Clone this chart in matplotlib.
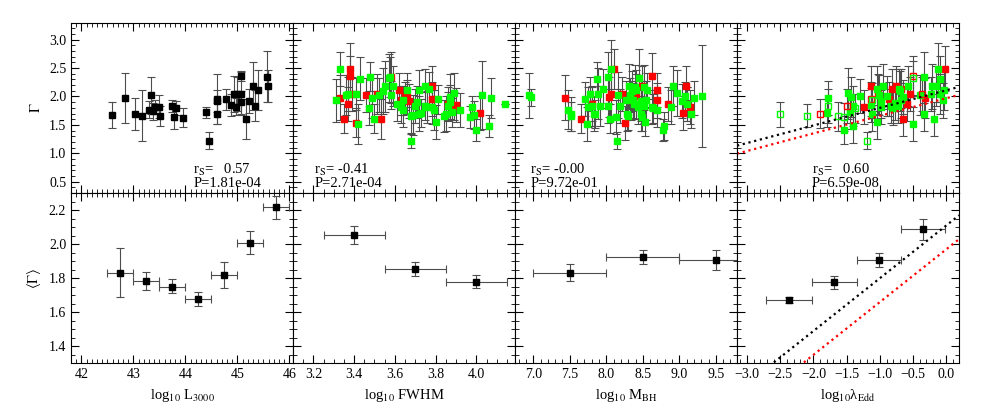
import matplotlib
matplotlib.use("Agg")
import matplotlib.pyplot as plt
from matplotlib.ticker import MultipleLocator
import numpy as np

plt.rcParams['font.family'] = ['Liberation Serif', 'DejaVu Serif']
plt.rcParams['mathtext.fontset'] = 'stix'
plt.rcParams['font.size'] = 9

# ---- top row: individual sources ----
# panel 1, L3000 (black)
l_x = [42.59, 42.83, 43.04, 43.17, 43.34, 43.30, 43.37, 43.42, 43.50, 43.51, 43.74, 43.81,
       43.79, 43.96, 44.39, 44.45, 44.60, 44.60, 44.61, 44.79, 44.88, 44.93, 44.97, 45.00,
       45.06, 45.06, 45.07, 45.16, 45.23, 45.30, 45.34, 45.39, 45.56, 45.59]
l_y = [1.68, 1.98, 1.69, 1.66, 2.02, 1.77, 1.74, 1.82, 1.82, 1.66, 1.83, 1.80,
       1.64, 1.63, 1.72, 1.22, 1.96, 1.92, 1.70, 1.95, 1.85, 2.04, 1.82, 2.05,
       2.05, 1.90, 2.36, 1.61, 1.92, 2.18, 1.84, 2.12, 2.35, 2.19]
l_e = [0.23, 0.44, 0.28, 0.45, 0.32, 0.15, 0.15, 0.12, 0.20, 0.18, 0.10, 0.12,
       0.21, 0.16, 0.10, 0.15, 0.44, 0.20, 0.19, 0.19, 0.20, 0.32, 0.15, 0.30,
       0.38, 0.20, 0.09, 0.35, 0.21, 0.42, 0.28, 0.35, 0.45, 0.28]

# panel 2, FWHM
fw_gx = [3.31, 3.33, 3.36, 3.37, 3.41, 3.43, 3.42, 3.475, 3.48, 3.49, 3.50,
         3.52, 3.54, 3.55, 3.57, 3.575, 3.58, 3.59, 3.61, 3.63, 3.64, 3.66,
         3.64, 3.68, 3.68, 3.69, 3.70, 3.71, 3.72, 3.72, 3.73, 3.75, 3.75,
         3.76, 3.77, 3.78, 3.79, 3.80, 3.81, 3.84, 3.85, 3.86, 3.87, 3.87,
         3.88, 3.89, 3.92, 3.97, 3.98, 3.99, 4.00, 4.03, 4.06, 4.07, 4.14]
fw_gy = [1.93, 2.49, 2.02, 2.04, 2.05, 2.31, 1.52, 1.79, 2.35, 1.98, 1.61,
         2.02, 2.10, 2.18, 2.33, 2.34, 2.03, 2.18, 1.87, 1.82, 1.77, 2.12,
         1.93, 1.66, 1.22, 1.68, 1.83, 1.90, 2.12, 1.70, 1.71, 1.83, 2.18,
         1.82, 2.14, 1.81, 1.76, 1.55, 1.95, 1.66, 1.70, 1.83, 1.99, 1.91,
         1.72, 2.06, 1.76, 1.64, 1.82, 1.67, 1.41, 2.02, 1.48, 1.98, 1.86]
fw_ge = [0.38, 0.30, 0.35, 0.30, 0.28, 0.38, 0.35, 0.30, 0.25, 0.35, 0.25,
         0.30, 0.40, 0.45, 0.42, 0.35, 0.25, 0.35, 0.30, 0.28, 0.30, 0.30,
         0.25, 0.30, 0.12, 0.35, 0.30, 0.28, 0.35, 0.30, 0.25, 0.25, 0.30,
         0.28, 0.30, 0.30, 0.35, 0.30, 0.25, 0.28, 0.30, 0.25, 0.40, 0.30,
         0.25, 0.35, 0.30, 0.20, 0.18, 0.25, 0.20, 0.60, 0.20, 0.35, 0.00]
fw_rx = [3.33, 3.38, 3.38, 3.37, 3.35, 3.39, 3.41, 3.46, 3.51, 3.53, 3.58,
         3.62, 3.65, 3.66, 3.63, 3.67, 3.78, 3.78, 3.86, 3.89, 3.90, 4.02]
fw_ry = [1.98, 2.49, 2.36, 1.86, 1.61, 2.05, 1.54, 2.03, 2.05, 1.61, 2.34,
         2.12, 2.01, 1.99, 1.93, 1.92, 2.18, 1.95, 1.86, 1.83, 1.85, 1.71]
fw_re = [0.40, 0.45, 0.35, 0.30, 0.25, 0.30, 0.25, 0.30, 0.35, 0.35, 0.45,
         0.30, 0.25, 0.30, 0.25, 0.30, 0.35, 0.30, 0.30, 0.25, 0.30, 0.30]

# panel 3, MBH
mb_gx = [6.94, 6.97, 7.48, 7.51, 7.52, 7.71, 7.74, 7.75, 7.77, 7.80, 7.83, 7.84,
         7.87, 7.89, 7.92, 7.95, 8.02, 8.03, 8.05, 8.06, 8.13, 8.14, 8.16, 8.19,
         8.27, 8.29, 8.30, 8.31, 8.33, 8.35, 8.37, 8.38, 8.39, 8.41, 8.44, 8.45,
         8.47, 8.48, 8.49, 8.51, 8.52, 8.53, 8.55, 8.56, 8.62, 8.64, 8.69, 8.77,
         8.79, 8.89, 8.91, 8.97, 9.03, 9.08, 9.11, 9.16, 9.20, 9.31]
mb_gy = [2.02, 1.99, 1.77, 1.69, 1.65, 1.95, 1.52, 1.81, 2.05, 1.83, 1.70, 1.69,
         2.31, 2.05, 1.83, 2.14, 1.83, 2.34, 1.61, 2.49, 1.64, 1.22, 2.03, 1.84,
         1.93, 1.70, 1.66, 2.18, 2.02, 2.10, 1.93, 1.86, 2.16, 2.12, 1.81, 2.33,
         1.92, 1.70, 1.64, 2.16, 1.83, 1.55, 1.93, 2.12, 1.81, 1.79, 1.77, 1.41,
         1.48, 1.82, 2.18, 2.06, 1.92, 2.01, 1.86, 1.69, 1.98, 2.01]
mb_ge = [0.40, 0.15, 0.35, 0.30, 0.25, 0.30, 0.30, 0.35, 0.30, 0.35, 0.30, 0.25,
         0.30, 0.45, 0.35, 0.35, 0.30, 0.45, 0.25, 0.50, 0.30, 0.15, 0.40, 0.30,
         0.35, 0.30, 0.25, 0.40, 0.30, 0.35, 0.30, 0.25, 0.40, 0.35, 0.30, 0.50,
         0.35, 0.30, 0.25, 0.40, 0.30, 0.25, 0.35, 0.30, 0.30, 0.25, 0.30, 0.20,
         0.25, 0.30, 0.35, 0.40, 0.30, 0.25, 0.30, 0.25, 0.30, 0.90]
mb_rx = [7.44, 7.65, 7.80, 8.04, 8.06, 8.10, 8.21, 8.26, 8.34, 8.40,
         8.49, 8.62, 8.69, 8.70, 8.85, 9.05, 9.09, 9.11, 9.15]
mb_ry = [1.98, 1.61, 1.86, 1.99, 2.05, 2.49, 2.05, 1.54, 1.93, 2.00,
         2.19, 2.36, 2.12, 1.93, 1.86, 1.71, 2.18, 1.87, 1.82]
mb_re = [0.40, 0.25, 0.30, 0.35, 0.40, 0.35, 0.30, 0.30, 0.35, 0.40,
         0.35, 0.40, 0.30, 0.30, 0.30, 0.30, 0.35, 0.30, 0.30]

# panel 4, lambda_Edd (open = limits, filled = measured)
ed_ogx = [-2.51, -2.09, -1.78, -1.63, -1.54, -1.20, -1.12, -1.38, -0.50]
ed_ogy = [1.69, 1.66, 1.83, 1.65, 1.64, 1.22, 1.93, 1.79, 2.33]
ed_oge = [0.22, 0.20, 0.30, 0.25, 0.25, 0.15, 0.30, 0.25, 0.30]
ed_orx = [-1.90, -1.50, -0.50, -0.36, -1.13]
ed_ory = [1.70, 1.84, 2.36, 2.04, 1.95]
ed_ore = [0.25, 0.30, 0.35, 0.30, 0.30]
ed_gx = [-1.78, -1.80, -1.54, -1.48, -1.45, -1.43, -1.40, -1.41, -1.30, -1.12,
         -1.05, -1.05, -1.02, -0.99, -0.98, -0.95, -0.89, -0.83, -0.80, -0.78,
         -0.72, -0.70, -0.68, -0.65, -0.58, -0.50, -0.40, -0.34, -0.34, -0.23,
         -0.22, -0.19, -0.16, -0.12, -0.09, -0.09, -0.05, -0.04, -0.73, -1.13]
ed_gy = [1.98, 1.71, 1.41, 2.06, 1.72, 1.99, 1.48, 1.83, 2.01, 1.69,
         2.14, 1.55, 2.02, 1.92, 1.82, 2.18, 2.01, 1.83, 1.79, 1.88,
         2.14, 2.10, 1.93, 1.99, 2.18, 1.52, 2.02, 2.34, 1.69, 2.04,
         2.18, 1.61, 2.18, 2.49, 2.31, 2.04, 1.93, 2.11, 1.83, 1.85]
ed_ge = [0.30, 0.25, 0.25, 0.45, 0.30, 0.35, 0.30, 0.35, 0.30, 0.30,
         0.40, 0.30, 0.35, 0.30, 0.30, 0.40, 0.35, 0.30, 0.30, 0.30,
         0.35, 0.35, 0.30, 0.30, 0.35, 0.30, 0.35, 0.45, 0.30, 0.30,
         0.40, 0.30, 0.35, 0.45, 0.40, 0.35, 0.30, 0.35, 0.30, 0.30]
ed_rx = [-1.14, -1.24, -1.03, -0.86, -0.82, -0.76, -0.68, -0.65, -0.59, -0.55, -0.32, -0.02]
ed_ry = [2.18, 1.81, 2.05, 1.96, 2.14, 2.18, 2.14, 1.61, 1.86, 2.04, 1.98, 2.49]
ed_re = [0.35, 0.30, 0.35, 0.30, 0.35, 0.35, 0.35, 0.30, 0.30, 0.30, 0.35, 0.40]

# fitted relations in lambda_Edd panels: slope, intercept
fit_black = [0.31, 2.11]
fit_red = [0.31, 1.97]

stats_r = ['0.57', '-0.41', '-0.00', '0.60']
stats_p = ['1.81e-04', '2.71e-04', '9.72e-01', '6.59e-08']

# ---- bottom row: binned means ----
bl_x = [42.75, 43.25, 43.75, 44.25, 44.75, 45.25, 45.75]
bl_y = [1.833, 1.784, 1.751, 1.677, 1.816, 2.009, 2.216]
bl_ylo = [0.146, 0.052, 0.041, 0.039, 0.076, 0.069, 0.069]
bl_yhi = [0.147, 0.053, 0.043, 0.039, 0.080, 0.068, 0.068]
bl_xe = [0.25] * 7

bf_x = [3.4, 3.7, 4.0]
bf_y = [2.054, 1.853, 1.780]
bf_ye = [0.053, 0.041, 0.039]
bf_xe = [0.15, 0.15, 0.15]

bm_x = [7.5, 8.5, 9.5]
bm_y = [1.833, 1.927, 1.907]
bm_ye = [0.051, 0.041, 0.060]
bm_xe = [0.5, 0.5, 0.5]

be_x = [-2.365, -1.685, -1.015, -0.345]
be_y = [1.673, 1.775, 1.907, 2.087]
be_ye = [0.016, 0.036, 0.041, 0.061]
be_xlo = [0.345, 0.34, 0.325, 0.34]
be_xhi = [0.34, 0.345, 0.33, 0.33]

xlims = [(41.8, 46.07), (3.1, 4.19), (6.75, 9.79), (-3.15, 0.19)]
xmaj = [1.0, 0.2, 0.5, 0.5]
xmin = [0.1, 0.05, 0.1, 0.1]
xlabels = [r'log$_{10}$ L$_{3000}$', r'log$_{10}$ FWHM', r'log$_{10}$ M$_{\rm BH}$',
           r'log$_{10}$λ$_{\rm Edd}$']
txt_x = [0.55, 0.095, 0.068, 0.336]

fig = plt.figure(figsize=(9.81, 4.09), dpi=100)
gs = fig.add_gridspec(2, 4, left=0.0724, right=0.9776, top=0.9445, bottom=0.1117,
                      wspace=0, hspace=0)

eb = dict(fmt='none', ecolor='0.3', elinewidth=0.8, capsize=3.2, capthick=0.8)
ms = 4.5
green = '#00ff00'

for j in range(4):
    top = fig.add_subplot(gs[0, j])
    bot = fig.add_subplot(gs[1, j])

    if j == 0:
        top.errorbar(l_x, l_y, yerr=l_e, **eb)
        top.plot(l_x, l_y, 's', color='black', ms=ms, ls='none')
        bot.errorbar(bl_x, bl_y, yerr=[bl_ylo, bl_yhi], xerr=bl_xe, **eb)
        bot.plot(bl_x, bl_y, 's', color='black', ms=ms, ls='none')
    elif j == 1:
        top.errorbar(fw_gx, fw_gy, yerr=fw_ge, **eb)
        top.errorbar(fw_rx, fw_ry, yerr=fw_re, **eb)
        top.plot(fw_rx, fw_ry, 's', color='red', ms=ms, ls='none')
        top.plot(fw_gx, fw_gy, 's', color=green, ms=ms, ls='none')
        bot.errorbar(bf_x, bf_y, yerr=bf_ye, xerr=bf_xe, **eb)
        bot.plot(bf_x, bf_y, 's', color='black', ms=ms, ls='none')
    elif j == 2:
        top.errorbar(mb_gx, mb_gy, yerr=mb_ge, **eb)
        top.errorbar(mb_rx, mb_ry, yerr=mb_re, **eb)
        top.plot(mb_rx, mb_ry, 's', color='red', ms=ms, ls='none')
        top.plot(mb_gx, mb_gy, 's', color=green, ms=ms, ls='none')
        bot.errorbar(bm_x, bm_y, yerr=bm_ye, xerr=bm_xe, **eb)
        bot.plot(bm_x, bm_y, 's', color='black', ms=ms, ls='none')
    else:
        top.errorbar(ed_ogx, ed_ogy, yerr=ed_oge, **eb)
        top.errorbar(ed_orx, ed_ory, yerr=ed_ore, **eb)
        top.errorbar(ed_gx, ed_gy, yerr=ed_ge, **eb)
        top.errorbar(ed_rx, ed_ry, yerr=ed_re, **eb)
        top.plot(ed_rx, ed_ry, 's', color='red', ms=ms, ls='none')
        top.plot(ed_gx, ed_gy, 's', color=green, ms=ms, ls='none')
        top.plot(ed_orx, ed_ory, 's', mfc='none', mec='red', mew=1, ms=ms, ls='none')
        top.plot(ed_ogx, ed_ogy, 's', mfc='none', mec=green, mew=1, ms=ms, ls='none')
        bot.errorbar(be_x, be_y, yerr=be_ye, xerr=[be_xlo, be_xhi], **eb)
        bot.plot(be_x, be_y, 's', color='black', ms=ms, ls='none')
        xx = np.array(xlims[3])
        for ax in (top, bot):
            ax.plot(xx, fit_black[0] * xx + fit_black[1], ':', color='black', lw=1.6)
            ax.plot(xx, fit_red[0] * xx + fit_red[1], ':', color='red', lw=1.6)

    pad = '   ' if not stats_r[j].startswith('-') else ' '
    top.text(txt_x[j], 0.135, r'r$_{\rm S}$=' + pad + stats_r[j],
             transform=top.transAxes, fontsize=10.5, va='center')
    top.text(txt_x[j], 0.055, 'P=' + stats_p[j], transform=top.transAxes,
             fontsize=10.5, va='center')

    top.set_ylim(0.3, 3.3)
    bot.set_ylim(1.3, 2.3)
    top.yaxis.set_major_locator(MultipleLocator(0.5))
    top.yaxis.set_minor_locator(MultipleLocator(0.1))
    bot.yaxis.set_major_locator(MultipleLocator(0.2))
    bot.yaxis.set_minor_locator(MultipleLocator(0.05))
    for ax in (top, bot):
        ax.set_xlim(*xlims[j])
        ax.xaxis.set_major_locator(MultipleLocator(xmaj[j]))
        ax.xaxis.set_minor_locator(MultipleLocator(xmin[j]))
        ax.tick_params(which='both', direction='in', top=True, right=True, labelsize=10)
        ax.tick_params(which='major', length=6, width=0.8)
        ax.tick_params(which='minor', length=3, width=0.6)
        for s in ax.spines.values():
            s.set_linewidth(0.8)
    top.tick_params(labelbottom=False)
    if j == 0:
        top.set_ylabel(r'$\Gamma$', fontsize=10.5)
        bot.set_ylabel(r'$\langle\Gamma\rangle$', fontsize=10.5)
        top.set_yticks([0.5, 1.0, 1.5, 2.0, 2.5, 3.0])
        bot.set_yticks([1.4, 1.6, 1.8, 2.0, 2.2])
    else:
        top.tick_params(labelleft=False)
        bot.tick_params(labelleft=False)
    bot.set_xlabel(xlabels[j], fontsize=10.5)

fig.savefig('out.png', dpi=100)
